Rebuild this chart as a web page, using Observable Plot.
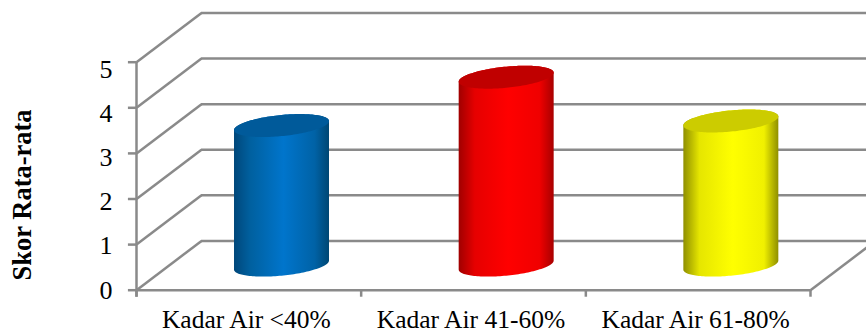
<!DOCTYPE html>
<html>
<head>
<meta charset="utf-8">
<script src="https://cdn.jsdelivr.net/npm/d3@7"></script>
<script src="https://cdn.jsdelivr.net/npm/@observablehq/plot@0.6"></script>
<style>
  html, body { margin: 0; padding: 0; background: #fff; }
  svg { display: block; overflow: hidden; }
</style>
</head>
<body>
<div id="chart"></div>
<script>
// Mean score per moisture class
const categories = ["Kadar Air <40%", "Kadar Air 41-60%", "Kadar Air 61-80%"];
const scores = [3.06, 4.12, 3.16];
const yTicks = [0, 1, 2, 3, 4, 5];
const xEdges = [0, 1, 2, 3];
const yTitle = "Skor Rata-rata";

// Oblique projection of the box, in axis units
const depthX = 0.2893;
const depthY = 1.08;

// Cylinder cross-section, in axis units
const radiusX = 0.2114;
const radiusY = 0.232;
const tilt = 0.0987;

const grid = "#8a8a8a";
const lineWidth = 2.5;
const serif = "'Liberation Serif', 'Times New Roman', serif";

const palettes = [
  {id: "cyl-blue", lid: "#005a9a", stops: ["#00477a", "#00609f", "#0075cc", "#0062a6", "#004773"]},
  {id: "cyl-red", lid: "#c00000", stops: ["#a00000", "#e60000", "#ff0000", "#f00000", "#a80000"]},
  {id: "cyl-yellow", lid: "#cccc00", stops: ["#8f8f00", "#e6e600", "#ffff00", "#f0f000", "#8f8f00"]}
];
const stopOffsets = [0, 0.17, 0.52, 0.85, 1];

// Half-ellipse sweep: lower and upper rim of a disc resting at height `level`
function rim(center, level) {
  return d3.range(0, 73).map((i) => {
    const t = (i / 72) * Math.PI;
    const c = Math.cos(t), s = Math.sin(t);
    return {
      x: center + radiusX * c,
      low: level + tilt * c - radiusY * s,
      high: level + tilt * c + radiusY * s
    };
  });
}

const cylinders = categories.flatMap((name, i) => {
  const center = i + 0.503 + depthX / 2;
  const floor = depthY / 2;
  const p = palettes[i];
  const base = rim(center, floor);
  const top = rim(center, floor + scores[i]);
  const body = base.map((b, k) => ({x: b.x, y1: b.low, y2: top[k].high}));
  return [
    Plot.areaY(body, {x: "x", y1: "y1", y2: "y2", fill: `url(#${p.id})`}),
    Plot.areaY(top, {x: "x", y1: "low", y2: "high", fill: p.lid})
  ];
});

const chart = Plot.plot({
  width: 866,
  height: 334,
  marginTop: 0,
  marginRight: 0,
  marginBottom: 0,
  marginLeft: 0,
  style: {background: "#fff", fontFamily: serif, color: "#000"},
  x: {domain: [0, 3], range: [136, 810], axis: null},
  y: {domain: [0, 5], range: [289.7, 61.7], axis: null},
  marks: [
    // Back wall
    Plot.ruleY(yTicks, {y: (d) => d + depthY, x1: depthX, x2: 3 + depthX, stroke: grid, strokeWidth: lineWidth}),
    // Side wall and floor diagonals
    Plot.link(yTicks, {x1: 0, y1: (d) => d, x2: depthX, y2: (d) => d + depthY, stroke: grid, strokeWidth: lineWidth}),
    Plot.link([3], {x1: (d) => d, y1: 0, x2: (d) => d + depthX, y2: depthY, stroke: grid, strokeWidth: lineWidth}),
    // Front axes with outward ticks
    Plot.ruleY([0], {x1: 0, x2: 3, stroke: grid, strokeWidth: lineWidth}),
    Plot.ruleX([0], {y1: -0.154, y2: 5, stroke: grid, strokeWidth: lineWidth}),
    Plot.ruleX(xEdges, {y1: -0.154, y2: 0, stroke: grid, strokeWidth: lineWidth}),
    Plot.ruleY(yTicks, {x1: -0.036, x2: 0, stroke: grid, strokeWidth: lineWidth}),
    ...cylinders,
    // Tick labels sit on a slightly tighter pitch than the ticks
    Plot.text(yTicks, {
      x: 0, y: (d) => d * 0.969, text: (d) => String(d),
      dx: -24, textAnchor: "end", fontSize: 26, fill: "#000"
    }),
    Plot.text(categories, {
      x: (d, i) => i + 0.5, y: 0, text: (d) => d,
      dx: -2.5, dy: 30, fontSize: 25.5, fill: "#000"
    }),
    Plot.text([yTitle], {
      x: 0, y: 2.09, text: (d) => d, rotate: -90,
      dx: -114, fontSize: 26.5, fontWeight: "bold", fill: "#000"
    })
  ]
});

// Cylinder shading, applied left to right across each body
const defs = d3.create("svg:defs");
for (const p of palettes) {
  const g = defs.append("linearGradient")
    .attr("id", p.id).attr("x1", 0).attr("x2", 1).attr("y1", 0).attr("y2", 0);
  p.stops.forEach((color, i) => {
    g.append("stop").attr("offset", stopOffsets[i]).attr("stop-color", color);
  });
}
chart.insertBefore(defs.node(), chart.firstChild);

document.getElementById("chart").append(chart);
</script>
</body>
</html>
